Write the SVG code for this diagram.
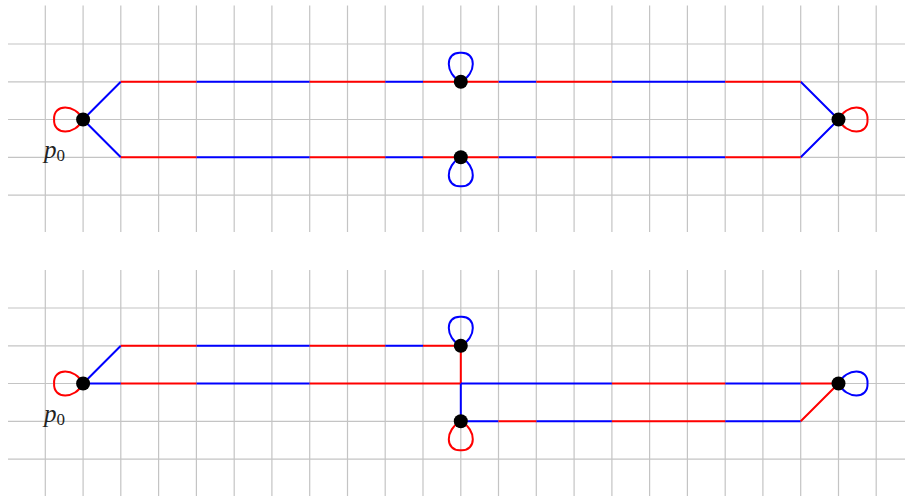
<svg xmlns="http://www.w3.org/2000/svg" xmlns:xlink="http://www.w3.org/1999/xlink" width="905" height="496" viewBox="0 0 905 496">
<style>
.grid line{stroke:#c4c4c4;stroke-width:1.2}
.r{stroke:#ff0000;stroke-width:2;fill:none;stroke-linecap:butt}
.b{stroke:#0000ff;stroke-width:2;fill:none;stroke-linecap:butt}
.node{fill:#000}
.lbl{font-family:"Liberation Serif","DejaVu Serif",serif;fill:#222}
</style>
<defs>
<path id="loop" d="M0,0 C-8,-16 -30,-16 -29,0 C-30,16 -8,16 0,0"/>
</defs>
<rect width="905" height="496" fill="#fff"/>
<g class="grid" id="grid-top">
<line x1="45.3" y1="5.5" x2="45.3" y2="232"/><line x1="83.1" y1="5.5" x2="83.1" y2="232"/><line x1="120.8" y1="5.5" x2="120.8" y2="232"/><line x1="158.6" y1="5.5" x2="158.6" y2="232"/><line x1="196.4" y1="5.5" x2="196.4" y2="232"/><line x1="234.2" y1="5.5" x2="234.2" y2="232"/><line x1="271.9" y1="5.5" x2="271.9" y2="232"/><line x1="309.7" y1="5.5" x2="309.7" y2="232"/><line x1="347.5" y1="5.5" x2="347.5" y2="232"/><line x1="385.2" y1="5.5" x2="385.2" y2="232"/><line x1="423" y1="5.5" x2="423" y2="232"/><line x1="460.8" y1="5.5" x2="460.8" y2="232"/><line x1="498.5" y1="5.5" x2="498.5" y2="232"/><line x1="536.3" y1="5.5" x2="536.3" y2="232"/><line x1="574.1" y1="5.5" x2="574.1" y2="232"/><line x1="611.9" y1="5.5" x2="611.9" y2="232"/><line x1="649.6" y1="5.5" x2="649.6" y2="232"/><line x1="687.4" y1="5.5" x2="687.4" y2="232"/><line x1="725.2" y1="5.5" x2="725.2" y2="232"/><line x1="762.9" y1="5.5" x2="762.9" y2="232"/><line x1="800.7" y1="5.5" x2="800.7" y2="232"/><line x1="838.5" y1="5.5" x2="838.5" y2="232"/><line x1="876.2" y1="5.5" x2="876.2" y2="232"/>
<line x1="8" y1="44" x2="905" y2="44"/><line x1="8" y1="81.8" x2="905" y2="81.8"/><line x1="8" y1="119.5" x2="905" y2="119.5"/><line x1="8" y1="157.3" x2="905" y2="157.3"/><line x1="8" y1="195.1" x2="905" y2="195.1"/>
</g>
<g class="grid" id="grid-bottom">
<line x1="45.3" y1="270" x2="45.3" y2="496"/><line x1="83.1" y1="270" x2="83.1" y2="496"/><line x1="120.8" y1="270" x2="120.8" y2="496"/><line x1="158.6" y1="270" x2="158.6" y2="496"/><line x1="196.4" y1="270" x2="196.4" y2="496"/><line x1="234.2" y1="270" x2="234.2" y2="496"/><line x1="271.9" y1="270" x2="271.9" y2="496"/><line x1="309.7" y1="270" x2="309.7" y2="496"/><line x1="347.5" y1="270" x2="347.5" y2="496"/><line x1="385.2" y1="270" x2="385.2" y2="496"/><line x1="423" y1="270" x2="423" y2="496"/><line x1="460.8" y1="270" x2="460.8" y2="496"/><line x1="498.5" y1="270" x2="498.5" y2="496"/><line x1="536.3" y1="270" x2="536.3" y2="496"/><line x1="574.1" y1="270" x2="574.1" y2="496"/><line x1="611.9" y1="270" x2="611.9" y2="496"/><line x1="649.6" y1="270" x2="649.6" y2="496"/><line x1="687.4" y1="270" x2="687.4" y2="496"/><line x1="725.2" y1="270" x2="725.2" y2="496"/><line x1="762.9" y1="270" x2="762.9" y2="496"/><line x1="800.7" y1="270" x2="800.7" y2="496"/><line x1="838.5" y1="270" x2="838.5" y2="496"/><line x1="876.2" y1="270" x2="876.2" y2="496"/>
<line x1="8" y1="308" x2="905" y2="308"/><line x1="8" y1="345.8" x2="905" y2="345.8"/><line x1="8" y1="383.5" x2="905" y2="383.5"/><line x1="8" y1="421.3" x2="905" y2="421.3"/><line x1="8" y1="459.1" x2="905" y2="459.1"/>
</g>
<g id="connectors">
<g id="top-upper">
<path class="b" d="M83.1,119.5 L120.8,81.8 M196.4,81.8 H309.7 M385.2,81.8 H423 M498.5,81.8 H536.3 M611.9,81.8 H725.2 M800.7,81.8 L838.5,119.5"/>
<path class="r" d="M120.8,81.8 H196.4 M309.7,81.8 H385.2 M423,81.8 H498.5 M536.3,81.8 H611.9 M725.2,81.8 H800.7"/>
</g>
<g id="top-lower">
<path class="b" d="M83.1,119.5 L120.8,157.3 M196.4,157.3 H309.7 M385.2,157.3 H423 M498.5,157.3 H536.3 M611.9,157.3 H725.2 M800.7,157.3 L838.5,119.5"/>
<path class="r" d="M120.8,157.3 H196.4 M309.7,157.3 H385.2 M423,157.3 H498.5 M536.3,157.3 H611.9 M725.2,157.3 H800.7"/>
</g>
<g id="top-loops">
<use xlink:href="#loop" class="r" transform="translate(83.1,119.5)"/>
<use xlink:href="#loop" class="r" transform="translate(838.5,119.5) rotate(180)"/>
<use xlink:href="#loop" class="b" transform="translate(460.8,81.8) rotate(90)"/>
<use xlink:href="#loop" class="b" transform="translate(460.8,157.3) rotate(-90)"/>
</g>
<g id="bottom-upper">
<path class="b" d="M83.1,383.5 L120.8,345.8 M196.4,345.8 H309.7 M385.2,345.8 H423"/>
<path class="r" d="M120.8,345.8 H196.4 M309.7,345.8 H385.2 M423,345.8 H460.8 V383.5"/>
</g>
<g id="bottom-middle">
<path class="b" d="M83.1,383.5 H120.8 M196.4,383.5 H309.7 M460.8,383.5 H611.9 M725.2,383.5 H800.7"/>
<path class="r" d="M120.8,383.5 H196.4 M309.7,383.5 H460.8 M611.9,383.5 H725.2 M800.7,383.5 H838.5"/>
</g>
<g id="bottom-lower">
<path class="b" d="M460.8,383.5 V421.3 H498.5 M536.3,421.3 H611.9 M725.2,421.3 H800.7"/>
<path class="r" d="M498.5,421.3 H536.3 M611.9,421.3 H725.2 M800.7,421.3 L838.5,383.5"/>
</g>
<g id="bottom-loops">
<use xlink:href="#loop" class="r" transform="translate(83.1,383.5)"/>
<use xlink:href="#loop" class="b" transform="translate(838.5,383.5) rotate(180)"/>
<use xlink:href="#loop" class="b" transform="translate(460.8,345.8) rotate(90)"/>
<use xlink:href="#loop" class="r" transform="translate(460.8,421.3) rotate(-90)"/>
</g>
</g>
<g id="n-top-left"><circle class="node" cx="83.1" cy="119.5" r="7"/></g>
<g id="n-top-right"><circle class="node" cx="838.5" cy="119.5" r="7"/></g>
<g id="n-top-mid-up"><circle class="node" cx="460.8" cy="81.8" r="7"/></g>
<g id="n-top-mid-down"><circle class="node" cx="460.8" cy="157.3" r="7"/></g>
<g id="n-bot-left"><circle class="node" cx="83.1" cy="383.5" r="7"/></g>
<g id="n-bot-right"><circle class="node" cx="838.5" cy="383.5" r="7"/></g>
<g id="n-bot-mid-up"><circle class="node" cx="460.8" cy="345.8" r="7"/></g>
<g id="n-bot-mid-down"><circle class="node" cx="460.8" cy="421.3" r="7"/></g>
<g id="labels">
<text class="lbl" x="44" y="157.5"><tspan font-style="italic" font-size="25">p</tspan><tspan font-size="17" dy="3">0</tspan></text>
<text class="lbl" x="44" y="421.5"><tspan font-style="italic" font-size="25">p</tspan><tspan font-size="17" dy="3">0</tspan></text>
</g>
</svg>
